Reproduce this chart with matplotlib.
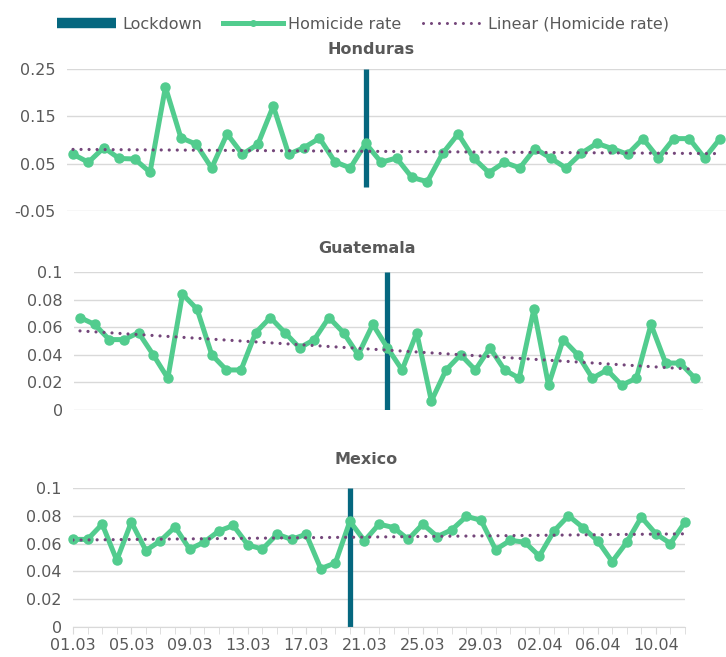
# -*- coding: utf-8 -*-
"""
Homicide rate before and after lockdown: Honduras, Guatemala, Mexico.
"""
import numpy as np
import pandas as pd
import matplotlib
matplotlib.use("Agg")
import matplotlib.pyplot as plt
from matplotlib.lines import Line2D

# =============================================================================
# Data
# =============================================================================
DATES = list(pd.date_range("2020-03-01", periods=43).strftime("%d.%m"))

HONDURAS = [
    0.070, 0.053, 0.084, 0.061, 0.060, 0.032, 0.212, 0.105, 0.091, 0.041,
    0.113, 0.070, 0.091, 0.172, 0.070, 0.084, 0.104, 0.054, 0.041, 0.093,
    0.053, 0.062, 0.021, 0.012, 0.072, 0.113, 0.062, 0.031, 0.053, 0.041,
    0.082, 0.062, 0.041, 0.072, 0.093, 0.082, 0.070, 0.103, 0.062, 0.103,
    0.103, 0.062, 0.103,
]
GUATEMALA = [
    0.067, 0.062, 0.051, 0.051, 0.056, 0.040, 0.023, 0.084, 0.073, 0.040,
    0.029, 0.029, 0.056, 0.067, 0.056, 0.045, 0.051, 0.067, 0.056, 0.040,
    0.062, 0.045, 0.029, 0.056, 0.0065, 0.029, 0.040, 0.029, 0.045, 0.029,
    0.023, 0.073, 0.018, 0.051, 0.040, 0.023, 0.029, 0.018, 0.023, 0.062,
    0.034, 0.034, 0.023,
]
MEXICO = [
    0.063, 0.063, 0.074, 0.048, 0.0755, 0.055, 0.062, 0.072, 0.056, 0.061,
    0.069, 0.073, 0.059, 0.056, 0.0667, 0.063, 0.0667, 0.042, 0.046, 0.076,
    0.062, 0.074, 0.0715, 0.063, 0.074, 0.065, 0.070, 0.0796, 0.0767, 0.0556,
    0.0623, 0.061, 0.051, 0.069, 0.080, 0.0715, 0.062, 0.047, 0.061, 0.079,
    0.067, 0.060, 0.0755,
]

COUNTRIES = ["Honduras", "Guatemala", "Mexico"]
SERIES = {"Honduras": HONDURAS, "Guatemala": GUATEMALA, "Mexico": MEXICO}
LOCKDOWN_DATE = {"Honduras": "20.03", "Guatemala": "22.03", "Mexico": "20.03"}
LOCKDOWN_RANGE = {"Honduras": (0.0, 0.25), "Guatemala": (0.0, 0.1), "Mexico": (0.0, 0.1)}

Y_TICKS = {
    "Honduras": [-0.05, 0.05, 0.15, 0.25],
    "Guatemala": [0, 0.02, 0.04, 0.06, 0.08, 0.1],
    "Mexico": [0, 0.02, 0.04, 0.06, 0.08, 0.1],
}
Y_TICK_LABELS = {
    "Honduras": ["-0.05", "0.05", "0.15", "0.25"],
    "Guatemala": ["0", "0.02", "0.04", "0.06", "0.08", "0.1"],
    "Mexico": ["0", "0.02", "0.04", "0.06", "0.08", "0.1"],
}

# =============================================================================
# Style
# =============================================================================
COLOR_LOCK = "#05677F"
COLOR_LINE = "#52CC8E"
COLOR_TREND = "#74467A"
COLOR_TEXT = "#595959"
COLOR_GRID = "#D9D9D9"

# axes boxes in figure fraction: left, bottom, width, height
AX_POS = {
    "Honduras": [0.0923, 0.6788, 0.9077, 0.2161],
    "Guatemala": [0.1019, 0.3760, 0.8664, 0.2100],
    "Mexico": [0.1006, 0.0457, 0.8430, 0.2116],
}
X_LIMS = {
    "Honduras": (-0.39, 42.39),
    "Guatemala": (-0.41, 42.55),
    "Mexico": (0, 42),
}
TITLE_POS = {"Honduras": (0.511, 0.925), "Guatemala": (0.505, 0.622), "Mexico": (0.504, 0.301)}

plt.rcParams.update({"font.family": "DejaVu Sans", "font.size": 11.5})

fig = plt.figure(figsize=(7.26, 6.57), dpi=100)

for name in COUNTRIES:
    ax = fig.add_axes(AX_POS[name])
    vals = np.array(SERIES[name])
    x = np.arange(len(vals))

    lock_idx = DATES.index(LOCKDOWN_DATE[name])
    lo, hi = LOCKDOWN_RANGE[name]
    ax.vlines(lock_idx, lo, hi, color=COLOR_LOCK, linewidth=3.8, zorder=2)

    ax.plot(x, vals, color=COLOR_LINE, linewidth=3.6, marker="o",
            markersize=6.5, zorder=3, clip_on=False)

    # linear trendline fitted to the series
    slope, intercept = np.polyfit(x, vals, 1)
    ax.plot(x, slope * x + intercept, color=COLOR_TREND, linewidth=2.3,
            linestyle=(0, (0.01, 2.5)), dash_capstyle="round", zorder=4)

    yt = Y_TICKS[name]
    ax.set_ylim(yt[0], yt[-1])
    ax.set_yticks(yt)
    ax.set_yticklabels(Y_TICK_LABELS[name], color=COLOR_TEXT)
    ax.yaxis.grid(True, color=COLOR_GRID, linewidth=1)
    ax.set_axisbelow(True)
    ax.set_xlim(*X_LIMS[name])
    ax.tick_params(axis="y", length=0, pad=8)

    for sp in ax.spines.values():
        sp.set_visible(False)

    if name == "Mexico":
        ax.spines["bottom"].set_visible(True)
        ax.spines["bottom"].set_color(COLOR_GRID)
        ax.set_xticks(x[::4])
        ax.set_xticklabels(DATES[::4], color=COLOR_TEXT)
        ax.set_xticks(x, minor=True)
        ax.tick_params(axis="x", which="both", length=5, color=COLOR_GRID,
                       direction="out", pad=3)
    else:
        ax.set_xticks([])

    fig.text(*TITLE_POS[name], name, ha="center", va="center",
             fontsize=11.5, fontweight="bold", color=COLOR_TEXT)

handles = [
    Line2D([], [], color=COLOR_LOCK, linewidth=7.5, solid_capstyle="butt"),
    Line2D([], [], color=COLOR_LINE, linewidth=3.6, marker="o", markersize=4),
    Line2D([], [], color=COLOR_TREND, linewidth=2.2, linestyle=(0, (0.01, 2.6)),
           dash_capstyle="round"),
]
labels = ["Lockdown", "Homicide rate", "Linear (Homicide rate)"]
leg = fig.legend(handles, labels, loc="center", bbox_to_anchor=(0.5, 0.963),
                 ncol=3, frameon=False, handlelength=3.7, handletextpad=0.35,
                 columnspacing=1.35, fontsize=11.5)
for t in leg.get_texts():
    t.set_color(COLOR_TEXT)

fig.savefig("out.png", dpi=100)
